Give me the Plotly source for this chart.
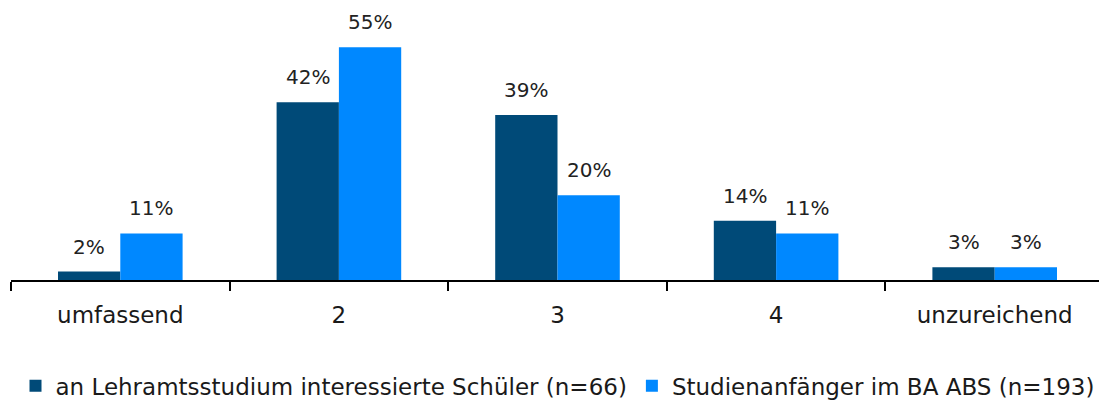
import plotly.graph_objects as go

# Bewertung der Vorbereitung (Anteile in %)
categories = ["umfassend", "2", "3", "4", "unzureichend"]
schueler = [2, 42, 39, 14, 3]
studienanfaenger = [11, 55, 20, 11, 3]

series_names = [
    "an Lehramtsstudium interessierte Schüler (n=66)",
    "Studienanfänger im BA ABS (n=193)",
]
colors = ["#004a78", "#0088ff"]

bargap = 0.43
bar_w = (1 - bargap) / 2

fig = go.Figure()
annotations = []
for k, (name, values, color) in enumerate(
    zip(series_names, [schueler, studienanfaenger], colors)
):
    fig.add_trace(
        go.Bar(
            x=categories,
            y=values,
            name=name,
            marker=dict(color=color, line=dict(width=0)),
        )
    )
    offset = (k - 0.5) * bar_w
    for i, v in enumerate(values):
        annotations.append(
            dict(
                x=i + offset,
                y=v,
                xref="x",
                yref="y",
                text=f"{v}%",
                showarrow=False,
                yanchor="middle",
                yshift=25,
                font=dict(size=20, color="#222222"),
            )
        )

fig.update_layout(
    width=1107,
    height=420,
    barmode="group",
    bargap=bargap,
    bargroupgap=0,
    plot_bgcolor="white",
    paper_bgcolor="white",
    font=dict(family="DejaVu Sans", size=23, color="#1a1a1a"),
    margin=dict(l=3, r=11, t=18, b=148),
    annotations=annotations,
    showlegend=True,
    legend=dict(
        orientation="h",
        x=0.5,
        xanchor="center",
        y=-0.417,
        yanchor="middle",
        font=dict(size=23),
    ),
    xaxis=dict(
        type="category",
        showline=True,
        linecolor="black",
        linewidth=2,
        ticks="outside",
        tickson="boundaries",
        ticklen=9,
        tickwidth=2,
        tickcolor="black",
        ticklabelstandoff=13,
        showgrid=False,
        automargin=False,
    ),
    yaxis=dict(range=[0, 60], visible=False, showgrid=False, automargin=False),
)

fig.write_html("out.html")
